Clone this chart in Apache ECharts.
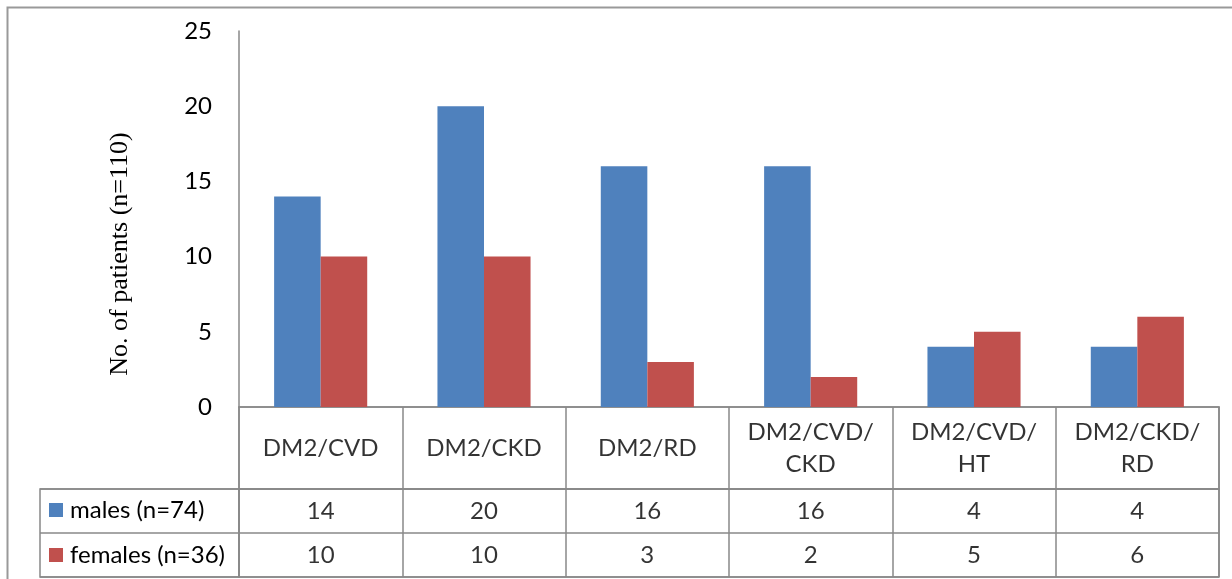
<!DOCTYPE html>
<html>
<head>
<meta charset="utf-8">
<script src="https://cdn.jsdelivr.net/npm/echarts@6/dist/echarts.min.js"></script>
<style>
html,body{margin:0;padding:0;background:#fff;}
#chart{width:1232px;height:579px;}
</style>
</head>
<body>
<div id="chart"></div>
<script>
const categories = ['DM2/CVD', 'DM2/CKD', 'DM2/RD', 'DM2/CVD/CKD', 'DM2/CVD/HT', 'DM2/CKD/RD'];
const males = [14, 20, 16, 16, 4, 4];
const females = [10, 10, 3, 2, 5, 6];
const seriesNames = ['males (n=74)', 'females (n=36)'];
const yTicks = [0, 5, 10, 15, 20, 25];
const yTitle = 'No. of patients (n=110)';

const FONT = 'Lato, Carlito, "Open Sans", sans-serif';
const FS = 24;
const GRAY = '#888888';
const BLUE = '#4F81BD';
const RED = '#C0504D';

function wrapCat(s) {
  const p = s.split('/');
  if (p.length > 2) return p.slice(0, 2).join('/') + '/\n' + p.slice(2).join('/');
  return s;
}

const chart = echarts.init(document.getElementById('chart'), null, {renderer: 'canvas'});

const TL = 239, TW = 980;
const textLabel = (fmt, lh) => ({
  show: true, position: 'inside', color: '#000', fontFamily: FONT, fontSize: FS,
  lineHeight: lh || 30, formatter: fmt
});

chart.setOption({
  animation: false,
  backgroundColor: '#fff',
  grid: [
    {left: TL, top: 31, width: TW, height: 376},
    {left: TL, top: 407, width: TW, height: 82, show: true, borderColor: GRAY, borderWidth: 1.5, backgroundColor: 'transparent'},
    {left: TL, top: 489, width: TW, height: 88, show: true, borderColor: GRAY, borderWidth: 1.5, backgroundColor: 'transparent'},
    {left: 40, top: 489, width: 199, height: 88, show: true, borderColor: GRAY, borderWidth: 1.5, backgroundColor: 'transparent'}
  ],
  legend: [
    {data: [seriesNames[0]], orient: 'vertical', left: 49, top: 498, padding: 0, itemWidth: 14, itemHeight: 14, itemGap: 7,
     textStyle: {fontFamily: FONT, fontSize: FS, color: '#000', padding: [0, 0, 0, 2]}, selectedMode: false, icon: 'rect'},
    {data: [seriesNames[1]], orient: 'vertical', left: 49, top: 543, padding: 0, itemWidth: 14, itemHeight: 14, itemGap: 7,
     textStyle: {fontFamily: FONT, fontSize: FS, color: '#000', padding: [0, 0, 0, 2]}, selectedMode: false, icon: 'rect'}
  ],
  xAxis: [
    {gridIndex: 0, type: 'category', data: categories,
     axisLine: {show: true, lineStyle: {color: GRAY, width: 1.5}}, axisTick: {show: false}, axisLabel: {show: false}},
    {gridIndex: 1, type: 'category', data: categories,
     axisLine: {show: false}, axisTick: {show: false}, axisLabel: {show: false},
     splitLine: {show: true, interval: 0, lineStyle: {color: GRAY, width: 1.5}}},
    {gridIndex: 2, type: 'category', data: categories,
     axisLine: {show: false}, axisTick: {show: false}, axisLabel: {show: false},
     splitLine: {show: true, interval: 0, lineStyle: {color: GRAY, width: 1.5}}},
    {gridIndex: 3, type: 'value', min: 0, max: 1, show: false}
  ],
  yAxis: [
    {gridIndex: 0, type: 'value', min: 0, max: 25, interval: 5,
     axisLine: {show: true, lineStyle: {color: GRAY, width: 1.5}}, axisTick: {show: false},
     splitLine: {show: false},
     axisLabel: {margin: 27, color: '#000', fontFamily: FONT, fontSize: FS,
       formatter: v => (yTicks.indexOf(v) >= 0 ? String(v) : '')}},
    {gridIndex: 1, type: 'value', min: 0, max: 1, show: false},
    {gridIndex: 2, type: 'category', data: seriesNames, inverse: true,
     axisLine: {show: false}, axisTick: {show: false}, axisLabel: {show: false},
     splitLine: {show: true, interval: 0, lineStyle: {color: GRAY, width: 1.5}}},
    {gridIndex: 3, type: 'category', data: seriesNames, inverse: true,
     axisLine: {show: false}, axisTick: {show: false}, axisLabel: {show: false},
     splitLine: {show: true, interval: 0, lineStyle: {color: GRAY, width: 1.5}}}
  ],
  series: [
    {name: seriesNames[0], type: 'bar', xAxisIndex: 0, yAxisIndex: 0, data: males,
     itemStyle: {color: BLUE}, barGap: '0%', barCategoryGap: '43%'},
    {name: seriesNames[1], type: 'bar', xAxisIndex: 0, yAxisIndex: 0, data: females,
     itemStyle: {color: RED}, barGap: '0%', barCategoryGap: '43%'},
    {type: 'scatter', xAxisIndex: 1, yAxisIndex: 1, silent: true, symbolSize: 1,
     itemStyle: {color: 'rgba(0,0,0,0)'},
     data: categories.map(c => [c, 0.5]),
     label: textLabel(p => wrapCat(p.value[0]), 32)},
    {type: 'scatter', xAxisIndex: 2, yAxisIndex: 2, silent: true, symbolSize: 1,
     itemStyle: {color: 'rgba(0,0,0,0)'},
     data: males.map((v, i) => [categories[i], seriesNames[0], v]),
     label: textLabel(p => String(p.value[2]))},
    {type: 'scatter', xAxisIndex: 2, yAxisIndex: 2, silent: true, symbolSize: 1,
     itemStyle: {color: 'rgba(0,0,0,0)'},
     data: females.map((v, i) => [categories[i], seriesNames[1], v]),
     label: textLabel(p => String(p.value[2]))}
  ],
  graphic: [
    {type: 'rect', shape: {x: 7.5, y: 7.5, width: 1300, height: 700}, silent: true,
     style: {fill: 'none', stroke: '#999', lineWidth: 2}},
    {type: 'text', x: 120, y: 254, rotation: Math.PI / 2, silent: true,
     style: {text: yTitle, font: '26px "Liberation Serif", "Times New Roman", serif', fill: '#000',
       textAlign: 'center', textVerticalAlign: 'middle'}}
  ]
});
</script>
</body>
</html>
